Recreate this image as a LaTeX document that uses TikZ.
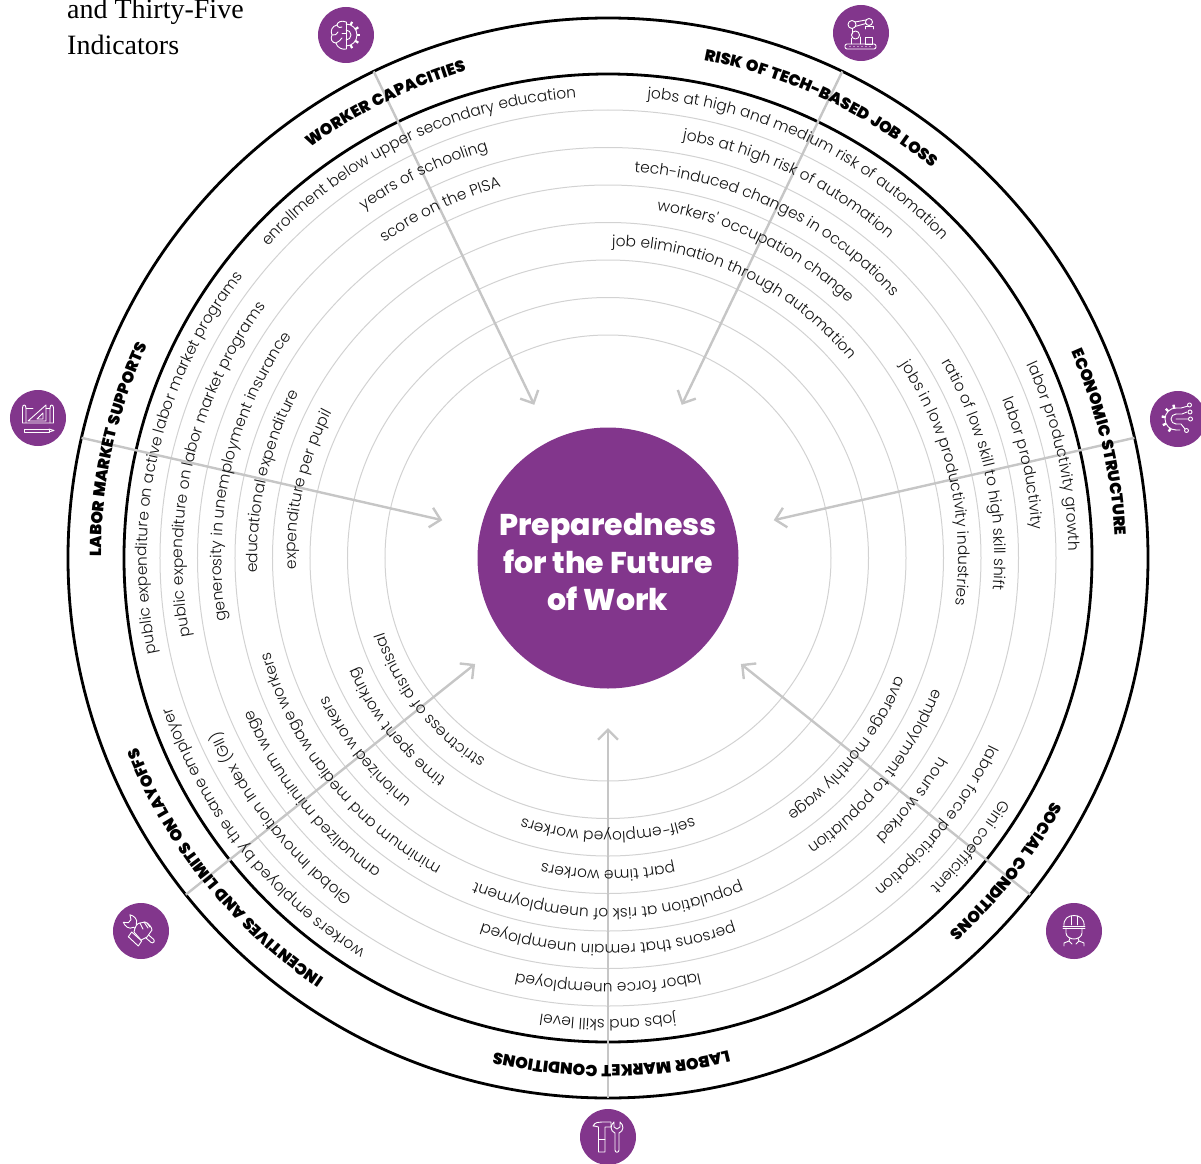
\documentclass[tikz,border=0pt]{standalone}
\usepackage{fontspec}
\usetikzlibrary{arrows.meta,decorations.text,calc}
\newfontfamily\ringfont{Poppins Light}
\newfontfamily\headfont{Poppins}[BoldFont=Poppins ExtraBold]
\newfontfamily\bandfont{Poppins}[BoldFont=Poppins Black,WordSpace=1.4]
\newfontfamily\titlefont{Liberation Serif}
\definecolor{futurepurple}{HTML}{82368C}
\definecolor{ringgray}{HTML}{D2D2D2}
\definecolor{arrowgray}{HTML}{C6C6C6}
\newcommand{\ringtext}[3]{\path[decorate,decoration={text along path,text align=center,text={|\fontsize{15.4}{18}\ringfont\color{black!92}|#3}}] (#2+75:#1pt) arc (#2+75:#2-75:#1pt);}
\newcommand{\headtext}[2]{\path[decorate,decoration={text along path,text align=center,text={|\fontsize{16}{18}\bandfont\bfseries|#2}}] (#1+60.4:507pt) arc (#1+60.4:#1-59.6:507pt);}
\tikzset{
	iconnode/.style={circle,fill=futurepurple,minimum size=56pt,inner sep=0pt},
	iconline/.style={draw=white,line width=.9pt,line join=round,line cap=round},
	flow/.style={draw=arrowgray,line width=2.4pt,-{Straight Barb[length=10pt,width=20pt]}},
	brainicon/.pic={
		\draw[iconline] (0,13) -- (0,-14);
		\draw[iconline] (0,13) .. controls (-4,15) and (-9,13) .. (-9,10) .. controls (-14,9) and (-16,4) .. (-14,0) .. controls (-16,-4) and (-14,-8) .. (-10,-8) .. controls (-9,-13) and (-3,-15) .. (0,-14);
		\draw[iconline] (-9,10) .. controls (-8,7) and (-5,7) .. (-4,8);
		\draw[iconline] (-14,0) .. controls (-11,-1) and (-9,1) .. (-8,3);
		\draw[iconline] (-10,-8) .. controls (-8,-6) and (-5,-6) .. (-4,-3);
		\draw[iconline] (0,2) -- (-4,2);
		\draw[iconline] (0,11) arc (90:-90:11);
		\draw[iconline] (0,5) arc (90:-90:5);
		\foreach \t in {65,32,0,-32,-65} {\draw[iconline,line width=2.2pt,line cap=butt] (\t:11) -- (\t:14.5);}
	},
	roboticon/.pic={
		\draw[iconline,rounded corners=2pt] (-16,-11) rectangle (15,-16);
		\foreach \x in {-11,-7,-3,1,5,9} {\fill[white] (\x,-13.5) circle (.6);}
		\draw[iconline] (-9,8.5) circle (4);
		\draw[iconline] (8,11) circle (3.5);
		\draw[iconline] (-5.5,-2) circle (4);
		\draw[iconline] (-6,11) -- (5,13) (-6,6.5) -- (5,9.5);
		\draw[iconline] (-9,4.5) -- (-9,-1);
		\draw[iconline] (-10,-11) -- (-10,-5) (-1,-11) -- (-1,-4);
		\draw[iconline] (4,4) -- (4,7) -- (12,7) -- (12,4);
		\draw[iconline] (4,-11) rectangle (11,-4);
	},
	circuiticon/.pic={
		\draw[iconline] (-2,11) arc (90:270:11);
		\draw[iconline] (-2,5) arc (90:270:5);
		\foreach \t in {100,135,170,205,240} {\draw[iconline,line width=2.4pt,line cap=butt] ($(-2,0)+(\t:11)$) -- ($(-2,0)+(\t:14.5)$);}
		\draw[iconline] (-2,11) -- (3,11) -- (10,13) (-2,5) -- (4,5) -- (9,7) (-2,0) -- (10,0) (-2,-5) -- (3,-5) -- (7,-10) (-2,-11) -- (2,-11);
		\draw[iconline,fill=futurepurple] (12,7) circle (2) (12.5,0) circle (2) (8.5,-11.5) circle (2) (11.5,14) circle (2);
	},
	helmeticon/.pic={
		\draw[iconline] (-10,4) .. controls (-11,13) and (-5,15.5) .. (0,15.5) .. controls (5,15.5) and (11,13) .. (10,4);
		\draw[iconline] (-11,3) -- (11,3) (-11,4.5) -- (11,4.5);
		\draw[iconline] (-3,6) -- (-3,15) (3,6) -- (3,15);
		\draw[iconline] (-8,3) -- (-8,-2) .. controls (-8,-6) and (-3,-8) .. (0,-8) .. controls (3,-8) and (8,-6) .. (8,-2) -- (8,3);
		\draw[iconline] (-4,-7) -- (-5,-10) -- (-10,-12) -- (-10,-15) (-5,-10) -- (-2,-13);
		\draw[iconline] (4,-7) -- (5,-10) -- (10,-12) -- (10,-15) (5,-10) -- (2,-13);
	},
	toolicon/.pic={
		\draw[iconline] (-15,11) .. controls (-13,15) and (-9,15) .. (-6,15) -- (3,15) -- (3,10) -- (-3,10) -- (-3,-15) -- (-9.5,-15) -- (-9.5,10) .. controls (-12,11) and (-14,11) .. (-15,11);
		\draw[iconline] (-9.5,-2) -- (-3,-2);
		\draw[iconline] (6,15) .. controls (2,12) and (2,6) .. (7,4) -- (7,-13) .. controls (7,-16) and (11,-16) .. (11,-13) -- (11,4) .. controls (16,6) and (16,12) .. (12,15) -- (12,10) -- (9,8) -- (6,10) -- cycle;
	},
	handicon/.pic={
		\begin{scope}[rotate=-41]
			\draw[iconline] (-8,2) -- (15,2) arc (90:-90:2) -- (-8,-2) .. controls (-10,-7) and (-15,-7) .. (-19,-5) -- (-15,-2) -- (-15,2) -- (-19,5) .. controls (-15,7) and (-10,7) .. (-8,2);
		\end{scope}
		\draw[iconline,fill=futurepurple] (-7,-1) .. controls (-6,4) and (-4,8) .. (-1,8) -- (4,9) .. controls (7,8) and (11,4) .. (11,1) -- (6,-6) -- (0,-9) -- cycle;
		\draw[iconline] (3,9) -- (7,3) (6,8) -- (9,4) (-1,8) -- (2,2);
		\draw[iconline,fill=futurepurple] (-12.7,-5.7) -- (-2.7,-15) -- (.7,-10) -- (-9.3,-1) -- cycle;
	},
	planicon/.pic={
		\draw[iconline] (-15.5,10) .. controls (-15.5,14) and (-12,14) .. (-12,10) -- (-12,-4) (-15.5,10) -- (-15.5,-5) -- (15.5,-5) -- (15.5,10) .. controls (15.5,14) and (12,14) .. (12,10) -- (12,-4);
		\draw[iconline] (-12,10) -- (-5,10) (8,10) -- (12,10);
		\draw[iconline] (-10,-3) -- (8,13) -- (8,-3) -- cycle;
		\draw[iconline] (-1,-1) -- (5,5) -- (5,-1) -- cycle;
		\draw[iconline] (-14,-11) rectangle (11,-14);
		\draw[iconline] (11,-11) -- (16,-12.5) -- (11,-14);
	}
}
\begin{document}
\begin{tikzpicture}[x=1pt,y=1pt]
	\useasboundingbox (-608,-605) rectangle (593,558);

	\foreach \r in {223,260.5,298,335.5,373,410.5,448} {
		\draw [ringgray,line width=1pt] (0,0) circle (\r pt);
	}
	\draw [black,line width=2.8pt] (0,0) circle (484pt);
	\draw [black,line width=2.8pt] (0,0) circle (540pt);

	\node [circle,fill=futurepurple,minimum size=261pt,inner sep=0pt] (core) at (0,0) {};

	\foreach \a/\n in {115.71/worker,64.29/tech,12.86/economic,-38.57/social,-90/market,218.57/incentive,167.14/supports} {
		\coordinate (start\n) at (\a:540pt);
		\coordinate (tip\n) at (\a:170pt);
		\draw [flow] (start\n) -- (tip\n);
	}

	\node [text=white,font=\fontsize{30}{37.5}\selectfont\headfont\bfseries,align=center] (coretitle) at (0,-4) {Preparedness\\for the Future\\of Work};

	\node [anchor=base west,font=\fontsize{28}{36}\selectfont\titlefont,inner sep=0pt] (titlea) at (-541,539.5) {and Thirty-Five};
	\node [anchor=base west,font=\fontsize{28}{36}\selectfont\titlefont,inner sep=0pt] (titleb) at (-541,503.5) {Indicators};

	\node [iconnode] (iconworker) at (-262,523) {};
	\node [iconnode] (icontech) at (253,525) {};
	\node [iconnode] (iconeconomic) at (570,139) {};
	\node [iconnode] (iconsocial) at (466,-373) {};
	\node [iconnode] (iconmarket) at (0,-579) {};
	\node [iconnode] (iconincentive) at (-467,-373) {};
	\node [iconnode] (iconsupports) at (-570,140) {};
	\pic at (iconworker) {brainicon};
	\pic at (icontech) {roboticon};
	\pic at (iconeconomic) {circuiticon};
	\pic at (iconsocial) {helmeticon};
	\pic at (iconmarket) {toolicon};
	\pic at (iconincentive) {handicon};
	\pic at (iconsupports) {planicon};

	\headtext{115.71}{WORKER CAPACITIES}
	\headtext{64.29}{RISK OF TECH-BASED JOB LOSS}
	\headtext{12.86}{ECONOMIC STRUCTURE}
	\headtext{-38.57}{SOCIAL CONDITIONS}
	\headtext{-90}{LABOR MARKET CONDITIONS}
	\headtext{218.57}{INCENTIVES AND LIMITS ON LAYOFFS}
	\headtext{167.14}{LABOR MARKET SUPPORTS}

	\ringtext{461}{115.71}{enrollment below upper secondary education}
	\ringtext{425}{115.71}{years of schooling}
	\ringtext{386.5}{115.71}{score on the PISA}

	\ringtext{461}{64.29}{jobs at high and medium risk of automation}
	\ringtext{425}{64.29}{jobs at high risk of automation}
	\ringtext{386.5}{64.29}{tech-induced changes in occupations}
	\ringtext{350.5}{64.29}{workers' occupation change}
	\ringtext{312}{64.29}{job elimination through automation}

	\ringtext{461}{12.86}{labor productivity growth}
	\ringtext{425}{12.86}{labor productivity}
	\ringtext{386.5}{12.86}{ratio of low skill to high skill shift}
	\ringtext{350.5}{12.86}{jobs in low productivity industries}

	\ringtext{461}{-38.57}{Gini coefficient}
	\ringtext{425}{-38.57}{labor force participation}
	\ringtext{386.5}{-38.57}{hours worked}
	\ringtext{350.5}{-38.57}{employment to population}
	\ringtext{312}{-38.57}{average monthly wage}

	\ringtext{461}{-90}{jobs and skill level}
	\ringtext{425}{-90}{labor force unemployed}
	\ringtext{386.5}{-90}{persons that remain unemployed}
	\ringtext{350.5}{-90}{population at risk of unemployment}
	\ringtext{312}{-90}{part time workers}
	\ringtext{273.5}{-90}{self-employed workers}

	\ringtext{461}{218.57}{workers employed by the same employer}
	\ringtext{425}{218.57}{Global Innovation Index (GII)}
	\ringtext{386.5}{218.57}{annualized minimum wage}
	\ringtext{350.5}{218.57}{minimum and median wage workers}
	\ringtext{312}{218.57}{unionized workers}
	\ringtext{273.5}{218.57}{time spent working}
	\ringtext{236}{218.57}{strictness of dismissal}

	\ringtext{461}{167.14}{public expenditure on active labor market programs}
	\ringtext{425}{167.14}{public expenditure on labor market programs}
	\ringtext{386.5}{167.14}{generosity in unemployment insurance}
	\ringtext{350.5}{167.14}{educational expenditure}
	\ringtext{312}{167.14}{expenditure per pupil}
\end{tikzpicture}
\end{document}
